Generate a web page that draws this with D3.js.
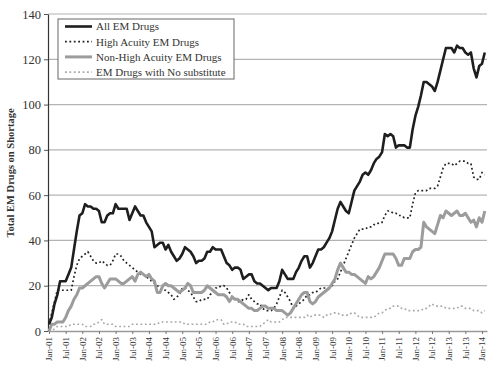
<!DOCTYPE html>
<html>
<head>
<meta charset="utf-8">
<script src="https://cdn.jsdelivr.net/npm/d3@7"></script>
<style>
  body { margin: 0; background: #fff; }
  svg { display: block; }
  text { font-family: "Liberation Serif", "DejaVu Serif", serif; fill: #333; }
</style>
</head>
<body>
<svg id="chart" width="500" height="373"></svg>
<script>
// monthly values, Jan-01 .. Feb-14
const allEM = [
  3, 6, 12, 16, 22, 22, 22, 25, 28, 36, 44, 51,
  52, 56, 55, 55, 54, 54, 53, 48, 48, 51, 52, 52,
  56, 54, 54, 54, 54, 49, 52, 55, 53, 51, 51, 48,
  46, 44, 37, 38, 39, 39, 36, 38, 35, 33, 31, 32,
  34, 37, 36, 35, 33, 30, 31, 31, 32, 35, 35, 37,
  36, 36, 36, 33, 30, 29, 27, 28, 28, 27, 23, 24,
  25, 25, 22, 21, 21, 20, 19, 18, 19, 19, 19, 22,
  27, 25, 23, 23, 23, 26, 28, 31, 33, 33, 28, 30,
  33, 36, 36, 37, 39, 41, 44, 49, 54, 57, 55, 53,
  52, 57, 62, 64, 66, 69, 70, 69, 71, 74, 76, 77,
  79, 87, 86, 87, 86, 81, 82, 82, 82, 81, 81, 89,
  95, 99, 104, 110, 110, 109, 108, 106, 110, 115, 120, 125,
  125, 125, 123, 126, 125, 125, 123, 122, 123, 116, 112, 117,
  118, 123
];
const highAcuity = [
  3, 8, 13, 18, 18, 18, 18, 18, 18, 24, 29, 32,
  33, 34, 35, 33, 31, 30, 30, 31, 30, 29, 29, 31,
  34, 34, 33, 31, 30, 29, 28, 27, 26, 25, 25, 24,
  23, 22, 21, 20, 19, 18, 18, 17, 16, 14, 15, 16,
  19, 19, 18, 17, 15, 13, 13, 14, 14, 14, 16, 17,
  19, 19, 20, 20, 19, 17, 15, 14, 13, 13, 14, 14,
  16, 14, 13, 12, 12, 10, 9, 9, 9, 10, 12, 15,
  18, 17, 15, 13, 10, 11, 12, 13, 14, 16, 16, 17,
  17, 18, 19, 19, 19, 19, 20, 22, 23, 26, 29, 32,
  35, 38, 41, 43, 45, 45, 45, 46, 46, 47, 47, 48,
  48, 51, 53, 53, 52, 52, 51, 51, 50, 50, 50, 56,
  61, 62, 62, 62, 62, 63, 63, 63, 64, 68, 72, 74,
  74, 74, 73, 74, 75, 75, 75, 74, 74, 68, 67, 67,
  70, 69
];
const nonHighAcuity = [
  0, 3, 3, 4, 4, 4, 6, 9, 11, 14, 16, 19,
  19, 20, 21, 22, 23, 24, 24, 21, 19, 21, 23, 23,
  23, 22, 21, 21, 22, 23, 24, 22, 25, 26, 25, 24,
  25, 23, 22, 17, 17, 20, 21, 20, 20, 19, 18, 17,
  18, 19, 21, 20, 17, 17, 17, 17, 18, 20, 19, 18,
  17, 16, 16, 16, 15, 13, 15, 14, 14, 13, 12, 11,
  10, 10, 9, 9, 10, 11, 11, 10, 10, 10, 9, 9,
  9, 8, 7, 8, 10, 12, 14, 16, 17, 17, 13, 12,
  13, 15, 16, 17, 18, 19, 21, 23, 27, 30, 28, 26,
  26, 25, 25, 24, 23, 22, 21, 24, 23, 24, 26, 28,
  31, 34, 34, 34, 34, 32, 29, 29, 32, 32, 32, 35,
  36, 36, 37, 48, 46, 45, 44, 43, 47, 51, 50, 53,
  52, 51, 52, 53, 51, 51, 52, 50, 48, 49, 46, 50,
  48, 53
];
const noSubstitute = [
  0, 0, 1, 2, 2, 2, 2, 2, 3, 3, 3, 3,
  3, 2, 2, 2, 3, 3, 4, 5, 3, 3, 3, 3,
  2, 2, 2, 2, 2, 2, 3, 3, 3, 3, 3, 3,
  3, 3, 3, 3, 4, 4, 4, 4, 4, 4, 4, 4,
  4, 3, 3, 3, 3, 3, 3, 3, 3, 3, 4, 4,
  5, 5, 5, 3, 3, 4, 4, 4, 3, 3, 3, 2,
  2, 2, 2, 2, 2, 3, 4, 5, 4, 4, 4, 4,
  5, 6, 6, 6, 6, 6, 6, 6, 6, 7, 6, 7,
  7, 7, 7, 6, 7, 7, 8, 8, 8, 7, 7, 7,
  7, 8, 8, 7, 6, 6, 6, 6, 6, 6, 7, 8,
  8, 9, 10, 10, 11, 11, 11, 10, 10, 9, 9, 9,
  9, 9, 9, 10, 10, 11, 12, 11, 11, 11, 11, 10,
  10, 10, 10, 10, 11, 11, 10, 10, 10, 9, 9, 9,
  8, 9
];

const xTickLabels = [
  "Jan-01","Jul-01","Jan-02","Jul-02","Jan-03","Jul-03","Jan-04","Jul-04",
  "Jan-05","Jul-05","Jan-06","Jul-06","Jan-07","Jul-07","Jan-08","Jul-08",
  "Jan-09","Jul-09","Jan-10","Jul-10","Jan-11","Jul-11","Jan-12","Jul-12",
  "Jan-13","Jul-13","Jan-14"
];
const yTicks = [0, 20, 40, 60, 80, 100, 120, 140];

const seriesNames = ["All EM Drugs", "High Acuity EM Drugs", "Non-High Acuity EM Drugs", "EM Drugs with No substitute"];

const svg = d3.select("#chart");
const plotLeft = 48, plotRight = 487, plotTop = 14, plotBottom = 331;

// x in month index from Jan-01
const x = d3.scaleLinear().domain([-0.36, 157.8]).range([plotLeft, plotRight]);
const y = d3.scaleLinear().domain([0, 140]).range([plotBottom, plotTop]);

// gridlines
svg.append("g")
  .selectAll("line")
  .data(yTicks.filter(d => d > 0))
  .join("line")
  .attr("x1", plotLeft).attr("x2", plotRight)
  .attr("y1", d => y(d)).attr("y2", d => y(d))
  .attr("stroke", "#b4b4b4")
  .attr("stroke-width", 1.2);

// y axis
const yAxis = svg.append("g")
  .attr("transform", `translate(${plotLeft},0)`)
  .call(d3.axisLeft(y).tickValues(yTicks).tickSize(4).tickSizeOuter(0));
yAxis.select(".domain").attr("stroke", "#333").attr("stroke-width", 1.2);
yAxis.selectAll(".tick line").attr("stroke", "#555");
yAxis.selectAll(".tick text")
  .attr("font-family", "Liberation Serif, serif")
  .attr("font-size", 12.5)
  .attr("fill", "#333")
  .attr("x", -7);

// x axis
const xTickVals = xTickLabels.map((d, i) => i * 6);
const xAxis = svg.append("g")
  .attr("transform", `translate(0,${plotBottom})`)
  .call(d3.axisBottom(x).tickValues(xTickVals).tickFormat((d, i) => xTickLabels[i]).tickSize(3).tickSizeOuter(0));
xAxis.select(".domain").attr("stroke", "#9a9a9a").attr("stroke-width", 1.6);
xAxis.selectAll(".tick line").attr("stroke", "#777");
xAxis.selectAll(".tick text")
  .attr("font-family", "Liberation Serif, serif")
  .attr("font-size", 9)
  .attr("fill", "#333")
  .attr("transform", "rotate(-90)")
  .attr("text-anchor", "end")
  .attr("dy", "0.32em")
  .attr("x", -6)
  .attr("y", 0);

// y label
svg.append("text")
  .attr("transform", "translate(14,173) rotate(-90)")
  .attr("text-anchor", "middle")
  .attr("font-size", 10.5)
  .attr("font-weight", "bold")
  .attr("fill", "#222")
  .text("Total EM Drugs on Shortage");

const styles = [
  { color: "#1e1e1e", width: 2.6, dash: null },
  { color: "#222", width: 1.7, dash: "1.8,2.6" },
  { color: "#9c9c9c", width: 3, dash: null },
  { color: "#a8a8a8", width: 1.6, dash: "1.8,2.6" }
];
const allSeries = [allEM, highAcuity, nonHighAcuity, noSubstitute];

const line = d3.line()
  .x((d, i) => x(i))
  .y(d => y(d));

// draw back to front
[3, 1, 2, 0].forEach(k => {
  svg.append("path")
    .datum(allSeries[k])
    .attr("fill", "none")
    .attr("stroke", styles[k].color)
    .attr("stroke-width", styles[k].width)
    .attr("stroke-dasharray", styles[k].dash)
    .attr("stroke-linejoin", "round")
    .attr("d", line);
});

// legend
const lg = svg.append("g").attr("transform", "translate(58,19)");
lg.append("rect")
  .attr("width", 176).attr("height", 60)
  .attr("fill", "#fff")
  .attr("stroke", "#666")
  .attr("stroke-width", 1);
seriesNames.forEach((name, i) => {
  const yy = 7.5 + i * 15.2;
  lg.append("line")
    .attr("x1", 7).attr("x2", 34)
    .attr("y1", yy).attr("y2", yy)
    .attr("stroke", styles[i].color)
    .attr("stroke-width", styles[i].width)
    .attr("stroke-dasharray", styles[i].dash);
  lg.append("text")
    .attr("x", 38).attr("y", yy)
    .attr("dy", "0.35em")
    .attr("font-size", 11)
    .attr("fill", "#222")
    .text(name);
});
</script>
</body>
</html>
